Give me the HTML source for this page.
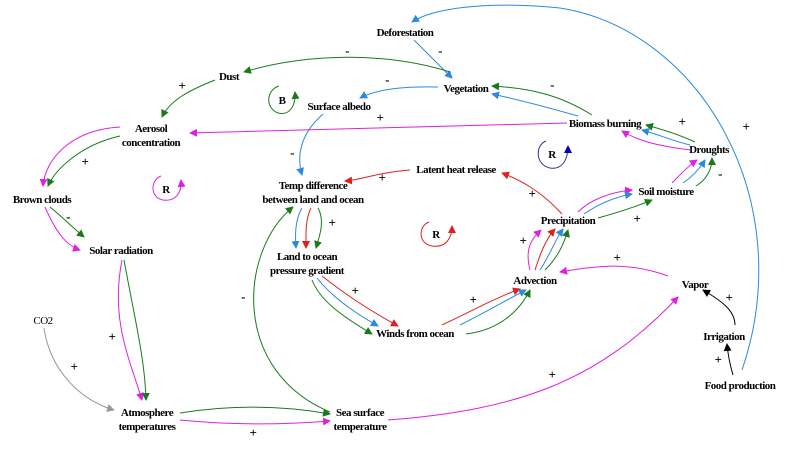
<!DOCTYPE html>
<html><head><style>
html,body{margin:0;padding:0;background:#fff;}
svg text{font-family:"Liberation Serif",serif;font-weight:bold;font-size:11px;letter-spacing:-0.5px;fill:#000;}
svg text.s{font-size:13px;}
</style></head><body>
<svg width="800" height="444" viewBox="0 0 800 444" xmlns="http://www.w3.org/2000/svg">
<defs>
<marker id="g" markerWidth="8" markerHeight="8" refX="7" refY="4" orient="auto" markerUnits="userSpaceOnUse"><path d="M0,0L8,4L0,8z" fill="#1a7a1a"/></marker>
<marker id="b" markerWidth="8" markerHeight="8" refX="7" refY="4" orient="auto" markerUnits="userSpaceOnUse"><path d="M0,0L8,4L0,8z" fill="#2a8ae0"/></marker>
<marker id="m" markerWidth="8" markerHeight="8" refX="7" refY="4" orient="auto" markerUnits="userSpaceOnUse"><path d="M0,0L8,4L0,8z" fill="#e020e0"/></marker>
<marker id="r" markerWidth="8" markerHeight="8" refX="7" refY="4" orient="auto" markerUnits="userSpaceOnUse"><path d="M0,0L8,4L0,8z" fill="#e02020"/></marker>
<marker id="k" markerWidth="8" markerHeight="8" refX="7" refY="4" orient="auto" markerUnits="userSpaceOnUse"><path d="M0,0L8,4L0,8z" fill="#000"/></marker>
<marker id="y" markerWidth="8" markerHeight="8" refX="7" refY="4" orient="auto" markerUnits="userSpaceOnUse"><path d="M0,0L8,4L0,8z" fill="#999"/></marker>
<marker id="n" markerWidth="8" markerHeight="8" refX="7" refY="4" orient="auto" markerUnits="userSpaceOnUse"><path d="M0,0L8,4L0,8z" fill="#0000c0"/></marker>
</defs>
<g fill="none" stroke-width="1">
<path d="M742,370 C800,200 700,30 560,8 C480,0 430,10 412,22" stroke="#2a8ae0" marker-end="url(#b)"/>
<path d="M414,40 L452,78" stroke="#2a8ae0" marker-end="url(#b)"/>
<path d="M450,72 C380,50 300,55 244,72" stroke="#1a7a1a" marker-end="url(#g)"/>
<path d="M215,80 C190,90 170,100 162,117" stroke="#1a7a1a" marker-end="url(#g)"/>
<path d="M438,87 C400,86 375,90 360,98" stroke="#2a8ae0" marker-end="url(#b)"/>
<path d="M323,114 C305,130 295,150 302,175" stroke="#2a8ae0" marker-end="url(#b)"/>
<path d="M592,115 C560,95 530,88 492,86" stroke="#1a7a1a" marker-end="url(#g)"/>
<path d="M578,116 C550,108 520,100 492,94" stroke="#2a8ae0" marker-end="url(#b)"/>
<path d="M567,123 L190,133" stroke="#e020e0" marker-end="url(#m)"/>
<path d="M120,127 C70,130 45,160 43,186" stroke="#e020e0" marker-end="url(#m)"/>
<path d="M120,136 C80,145 55,170 48,186" stroke="#1a7a1a" marker-end="url(#g)"/>
<path d="M45,207 C55,230 65,245 80,250" stroke="#e020e0" marker-end="url(#m)"/>
<path d="M50,207 C60,215 70,225 84,237" stroke="#1a7a1a" marker-end="url(#g)"/>
<path d="M122,260 C110,320 130,360 142,400" stroke="#e020e0" marker-end="url(#m)"/>
<path d="M124,260 C135,320 145,360 146,400" stroke="#1a7a1a" marker-end="url(#g)"/>
<path d="M44,328 C50,370 80,400 114,410" stroke="#999" marker-end="url(#y)"/>
<path d="M180,413 C230,405 280,405 330,414" stroke="#1a7a1a" marker-end="url(#g)"/>
<path d="M180,420 C230,425 280,425 330,421" stroke="#e020e0" marker-end="url(#m)"/>
<path d="M330,412 C230,370 240,250 293,207" stroke="#1a7a1a" marker-end="url(#g)"/>
<path d="M388,420 C520,410 600,380 678,297" stroke="#e020e0" marker-end="url(#m)"/>
<path d="M302,208 C295,220 295,235 296,248" stroke="#2a8ae0" marker-end="url(#b)"/>
<path d="M311,208 C305,220 306,235 306,248" stroke="#e02020" marker-end="url(#r)"/>
<path d="M318,208 C325,220 320,235 316,248" stroke="#1a7a1a" marker-end="url(#g)"/>
<path d="M322,276 C340,290 360,305 398,326" stroke="#e02020" marker-end="url(#r)"/>
<path d="M317,278 C330,295 350,310 378,326" stroke="#2a8ae0" marker-end="url(#b)"/>
<path d="M312,280 C320,300 340,315 372,334" stroke="#1a7a1a" marker-end="url(#g)"/>
<path d="M442,325 C470,312 495,298 520,289" stroke="#e02020" marker-end="url(#r)"/>
<path d="M460,325 C490,310 510,298 526,290" stroke="#2a8ae0" marker-end="url(#b)"/>
<path d="M466,334 C500,330 520,310 530,290" stroke="#1a7a1a" marker-end="url(#g)"/>
<path d="M530,270 C525,250 530,240 541,230" stroke="#e020e0" marker-end="url(#m)"/>
<path d="M535,270 C540,255 545,240 555,229" stroke="#e02020" marker-end="url(#r)"/>
<path d="M540,270 C550,255 555,240 563,229" stroke="#2a8ae0" marker-end="url(#b)"/>
<path d="M545,270 C560,255 565,240 568,230" stroke="#1a7a1a" marker-end="url(#g)"/>
<path d="M668,276 C630,262 600,265 560,272" stroke="#e020e0" marker-end="url(#m)"/>
<path d="M735,325 C735,310 720,300 703,290" stroke="#000" marker-end="url(#k)"/>
<path d="M733,375 C730,365 728,355 727,344" stroke="#000" marker-end="url(#k)"/>
<path d="M562,214 C540,190 520,180 502,173" stroke="#e02020" marker-end="url(#r)"/>
<path d="M410,170 C380,172 360,180 345,181" stroke="#e02020" marker-end="url(#r)"/>
<path d="M578,212 C590,200 610,192 632,190" stroke="#e020e0" marker-end="url(#m)"/>
<path d="M584,214 C600,203 615,197 632,194" stroke="#2a8ae0" marker-end="url(#b)"/>
<path d="M598,218 C620,212 635,207 652,200" stroke="#1a7a1a" marker-end="url(#g)"/>
<path d="M672,183 C680,175 688,166 697,160" stroke="#e020e0" marker-end="url(#m)"/>
<path d="M683,183 C692,177 700,168 705,160" stroke="#2a8ae0" marker-end="url(#b)"/>
<path d="M696,186 C706,180 712,170 712,158" stroke="#1a7a1a" marker-end="url(#g)"/>
<path d="M695,142 C680,135 665,130 646,125" stroke="#1a7a1a" marker-end="url(#g)"/>
<path d="M690,145 C670,140 660,135 642,130" stroke="#2a8ae0" marker-end="url(#b)"/>
<path d="M690,150 C660,146 640,142 622,131" stroke="#e020e0" marker-end="url(#m)"/>
<path d="M279,86 C266,90 265,108 278,113 C290,116 296,105 295,92" stroke="#1a7a1a" marker-end="url(#g)"/>
<path d="M161,176 C150,180 150,198 163,200 C176,202 182,192 181,180" stroke="#e020e0" marker-end="url(#m)"/>
<path d="M546,141 C535,145 535,165 550,168 C562,170 568,160 568,146" stroke="#3030a0" marker-end="url(#n)"/>
<path d="M429,222 C418,226 418,244 432,246 C446,248 452,238 452,226" stroke="#e02020" marker-end="url(#r)"/>
</g>
<g text-anchor="middle">
<text x="405" y="36">Deforestation</text>
<text x="229" y="80">Dust</text>
<text x="466" y="92">Vegetation</text>
<text x="282" y="104">B</text>
<text x="339" y="110">Surface albedo</text>
<text x="151" y="132">Aerosol</text>
<text x="151" y="146">concentration</text>
<text x="605" y="127">Biomass burning</text>
<text x="166" y="193">R</text>
<text x="552" y="158">R</text>
<text x="709" y="153">Droughts</text>
<text x="456" y="173">Latent heat release</text>
<text x="313" y="189">Temp difference</text>
<text x="313" y="203">between land and ocean</text>
<text x="42" y="203">Brown clouds</text>
<text x="666" y="195">Soil moisture</text>
<text x="568" y="224">Precipitation</text>
<text x="436" y="238">R</text>
<text x="307" y="260">Land to ocean</text>
<text x="307" y="274">pressure gradient</text>
<text x="121" y="254">Solar radiation</text>
<text x="535" y="284">Advection</text>
<text x="695" y="288">Vapor</text>
<text x="43" y="324" style="font-weight:normal">CO2</text>
<text x="415" y="337">Winds from ocean</text>
<text x="724" y="340">Irrigation</text>
<text x="740" y="389">Food production</text>
<text x="147" y="416">Atmosphere</text>
<text x="147" y="430">temperatures</text>
<text x="360" y="416">Sea surface</text>
<text x="360" y="430">temperature</text>
<text class="s" x="347" y="55">-</text>
<text class="s" x="440" y="55">-</text>
<text class="s" x="387" y="84">-</text>
<text class="s" x="552" y="89">-</text>
<text class="s" x="182" y="90">+</text>
<text class="s" x="380" y="122">+</text>
<text class="s" x="682" y="126">+</text>
<text class="s" x="746" y="131">+</text>
<text class="s" x="85" y="166">+</text>
<text class="s" x="292" y="157">-</text>
<text class="s" x="382" y="182">+</text>
<text class="s" x="332" y="227">+</text>
<text class="s" x="68" y="221">-</text>
<text class="s" x="532" y="198">+</text>
<text class="s" x="720" y="178">-</text>
<text class="s" x="637" y="223">+</text>
<text class="s" x="523" y="245">+</text>
<text class="s" x="617" y="262">+</text>
<text class="s" x="355" y="295">+</text>
<text class="s" x="473" y="304">+</text>
<text class="s" x="729" y="302">+</text>
<text class="s" x="718" y="364">+</text>
<text class="s" x="552" y="379">+</text>
<text class="s" x="243" y="301">-</text>
<text class="s" x="112" y="341">+</text>
<text class="s" x="74" y="371">+</text>
<text class="s" x="253" y="437">+</text>
</g>
</svg>
</body></html>
